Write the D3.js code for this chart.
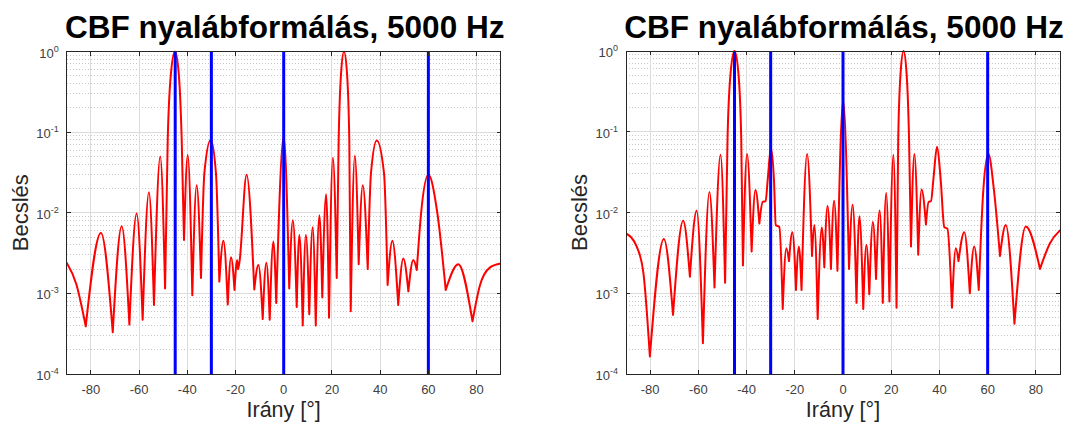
<!DOCTYPE html>
<html>
<head>
<meta charset="utf-8">
<script src="https://cdn.jsdelivr.net/npm/d3@7"></script>
<style>
  html, body { margin: 0; padding: 0; background: #ffffff; }
  svg { display: block; }
  text { font-family: "Liberation Sans", Arial, Helvetica, sans-serif; }
</style>
</head>
<body>
<svg id="chart" width="1075" height="426"></svg>
<script>
// ---------- data ----------
const titleText = "CBF nyalábformálás, 5000 Hz";
const xLabelText = "Irány [°]";
const yLabelText = "Becslés";

const xTicks = [-80, -60, -40, -20, 0, 20, 40, 60, 80];
const yTickExponents = [0, -1, -2, -3, -4];
const sourceAngles = [-45, -30, 0, 60];

// Left panel: red beam pattern (extrema and shape points)
const anglesLeft = [
  -90, -86, -82.1, -75.8, -70.9, -67.2, -64.0, -61.0, -58.5, -55.9, -53.8, -51.2, -49.2,
  -48.1, -46.75, -45.1, -43.55, -42.3,
  -41.35, -39.8, -37.9, -36.1, -34.3, -32.9, -30.3, -28.1, -26.7, -25.0, -23.2, -21.85, -20.4,
  -19.3, -18.9, -18.3, -15.4, -12.2, -10.5, -8.7, -7.2, -5.8, -4.3, -3.1, 0.0, 2.3, 3.8,
  5.4, 6.5, 7.9, 9.2, 10.6, 12.0, 13.3, 14.8, 16.0, 17.6, 18.8, 20.4, 22.0,
  22.8, 23.8, 25.0, 26.25, 27.2,
  27.8, 29.5, 31.1, 32.8, 34.85, 36.2, 38.6, 41.6, 43.1, 45.05, 47.5, 49.6, 51.7, 53.75, 55.2,
  57.0, 60.0, 63.7, 67.2,
  72.4, 78.3, 81.4, 85.6, 90
];
const valuesLeft = [
  2.4e-3, 1.3e-3, 3.9e-4, 5.6e-3, 3.3e-4, 6.8e-3, 4.1e-4, 9.8e-3, 4.7e-4, 1.8e-2, 7.2e-4, 5.0e-2, 1.15e-3,
  8.0e-2, 0.54, 1.0, 0.54, 8.0e-2,
  4.6e-3, 5.2e-2, 9.5e-4, 2.2e-2, 1.55e-3, 3.1e-2, 8.0e-2, 3.1e-2, 1.4e-3, 4.5e-3, 7.3e-4, 2.8e-3, 1.1e-3,
  2.6e-3, 2.0e-3, 2.5e-3, 2.95e-2, 1.12e-3, 2.25e-3, 4.8e-4, 2.4e-3, 4.7e-4, 4.4e-3, 7.6e-4, 8.9e-2, 1.15e-3, 8.1e-3,
  6.8e-4, 5.3e-3, 4.0e-4, 5.3e-3, 5.5e-4, 6.6e-3, 4.0e-4, 9.3e-3, 8.9e-4, 1.7e-2, 5.0e-4, 4.8e-2, 1.55e-3,
  8.0e-2, 0.54, 1.0, 0.54, 8.0e-2,
  6.0e-4, 5.1e-2, 2.3e-3, 2.2e-2, 2.0e-3, 3.1e-2, 7.9e-2, 3.1e-2, 1.27e-3, 4.5e-3, 7.2e-4, 2.7e-3, 1.06e-3, 2.6e-3, 1.95e-3,
  1.0e-2, 2.95e-2, 1.0e-2, 1.1e-3,
  2.3e-3, 4.5e-4, 1.26e-3, 2.1e-3, 2.35e-3
];

// Right panel: red beam pattern
const anglesRight = [
  -90, -85.6, -82.8, -80.1, -74.3, -70.5, -66.3, -63.5, -60.7, -58.1, -55.4, -53.3, -50.8, -48.9,
  -47.9, -46.6, -45.0, -43.4, -42.2,
  -41.5, -39.8, -37.9, -36.3, -34.7, -33.3, -32.1, -31.2, -29.9, -28.6, -27.9, -26.4, -25.0, -23.5, -22.4,
  -21.0, -19.5, -18.3, -17.2, -14.9, -12.85, -11.9, -10.5, -8.8, -7.75, -6.4, -5.0, -3.7, -2.3,
  0.05, 2.5, 4.0, 5.6, 6.8, 8.4, 9.7, 10.9, 12.4, 13.7, 15.2, 16.5, 17.9, 19.25, 20.9, 22.2,
  22.9, 23.9, 25.1, 26.35, 27.4,
  28.2, 29.6, 31.2, 32.6, 34.4, 35.5, 36.5, 37.5, 39.0, 40.5, 42.0, 43.3, 45.2, 46.8, 47.9, 50.3, 52.6,
  54.4, 56.3, 58.2, 60.3, 62.6, 65.1, 67.5, 71.1, 75.8, 81.7, 85.9, 90
];
const valuesRight = [
  5.5e-3, 3.8e-3, 1.8e-3, 1.65e-4, 4.7e-3, 5.4e-4, 7.9e-3, 1.6e-3, 1.05e-2, 2.4e-4, 1.8e-2, 1.18e-3, 5.2e-2, 1.35e-3,
  8.0e-2, 0.54, 1.0, 0.54, 8.0e-2,
  2.2e-3, 5.3e-2, 3.3e-3, 1.9e-2, 7.3e-3, 1.35e-2, 1.38e-2, 2.6e-2, 6.3e-2, 2.4e-2, 7.0e-3, 6.6e-3, 6.4e-4, 3.6e-3, 2.5e-3,
  5.7e-3, 1.1e-3, 3.8e-3, 1.1e-3, 5.3e-2, 2.9e-3, 7.0e-3, 4.8e-4, 6.5e-3, 2.1e-3, 1.2e-2, 2.0e-3, 1.4e-2, 1.9e-3,
  2.45e-1, 2.0e-3, 1.25e-2, 7.6e-4, 9.0e-3, 6.4e-4, 4.0e-3, 9.7e-4, 7.6e-3, 1.5e-3, 1.06e-2, 7.6e-4, 1.75e-2, 7.9e-4, 5.2e-2, 6.6e-4,
  8.0e-2, 0.54, 1.0, 0.54, 8.0e-2,
  3.8e-3, 5.3e-2, 3.0e-3, 1.92e-2, 7.1e-3, 1.35e-2, 1.38e-2, 2.6e-2, 6.5e-2, 2.6e-2, 6.6e-3, 6.3e-3, 6.6e-4, 3.6e-3, 2.5e-3, 5.7e-3, 1.0e-3,
  3.8e-3, 1.1e-3, 1.9e-2, 5.3e-2, 1.9e-2, 2.9e-3, 7.0e-3, 4.2e-4, 6.7e-3, 2.0e-3, 4.2e-3, 6.0e-3
];

// ---------- drawing ----------
const svg = d3.select("#chart");
svg.append("rect").attr("width", 1075).attr("height", 426).attr("fill", "#ffffff");

function drawPanel(id, box, angles, values) {
  const g = svg.append("g").attr("id", id);
  const x = d3.scaleLinear().domain([-90, 90]).range([box.x0, box.x1]);
  const y = d3.scaleLog().domain([1e-4, 1]).range([box.y1, box.y0]);

  // minor y grid (dotted)
  const minor = [];
  for (let e = -4; e < 0; e++) for (let k = 2; k <= 9; k++) minor.push(k * Math.pow(10, e));
  g.append("g").selectAll("line").data(minor).join("line")
    .attr("x1", box.x0).attr("x2", box.x1)
    .attr("y1", d => y(d)).attr("y2", d => y(d))
    .attr("stroke", "#c8c8c8").attr("stroke-width", 1)
    .attr("stroke-dasharray", "1,2").attr("shape-rendering", "crispEdges");

  // major grids
  g.append("g").selectAll("line").data(yTickExponents.map(e => Math.pow(10, e))).join("line")
    .attr("x1", box.x0).attr("x2", box.x1)
    .attr("y1", d => y(d)).attr("y2", d => y(d))
    .attr("stroke", "#dcdcdc").attr("stroke-width", 1).attr("shape-rendering", "crispEdges");
  g.append("g").selectAll("line").data(xTicks).join("line")
    .attr("x1", d => x(d)).attr("x2", d => x(d))
    .attr("y1", box.y0).attr("y2", box.y1)
    .attr("stroke", "#dcdcdc").attr("stroke-width", 1).attr("shape-rendering", "crispEdges");

  // clip
  g.append("clipPath").attr("id", id + "-clip").append("rect")
    .attr("x", box.x0).attr("y", box.y0 - 1)
    .attr("width", box.x1 - box.x0).attr("height", box.y1 - box.y0 + 1);

  // red curve: split at local minima (nulls) so that nulls stay sharp
  const pts = angles.map((a, i) => [a, values[i]]);
  const breaks = [0];
  for (let i = 1; i < pts.length - 1; i++) {
    if (pts[i][1] < pts[i - 1][1] && pts[i][1] < pts[i + 1][1]) breaks.push(i);
  }
  breaks.push(pts.length - 1);
  const line = d3.line().x(d => x(d[0])).y(d => y(d[1])).curve(d3.curveMonotoneX);
  let dStr = "";
  for (let b = 0; b < breaks.length - 1; b++) {
    dStr += line(pts.slice(breaks[b], breaks[b + 1] + 1));
  }
  g.append("path").attr("d", dStr)
    .attr("clip-path", `url(#${id}-clip)`)
    .attr("fill", "none").attr("stroke", "#ff0000")
    .attr("stroke-width", 2).attr("stroke-linecap", "round").attr("stroke-linejoin", "round");

  // blue source lines
  g.append("g").selectAll("line").data(sourceAngles).join("line")
    .attr("x1", d => x(d)).attr("x2", d => x(d))
    .attr("y1", box.y0).attr("y2", box.y1)
    .attr("stroke", "#0000ff").attr("stroke-width", 3);

  // axes box
  g.append("rect").attr("x", box.x0).attr("y", box.y0)
    .attr("width", box.x1 - box.x0).attr("height", box.y1 - box.y0)
    .attr("fill", "none").attr("stroke", "#262626").attr("stroke-width", 1)
    .attr("shape-rendering", "crispEdges");

  // inward ticks
  const tl = 4;
  g.append("g").selectAll("line").data(xTicks).join("line")
    .attr("x1", d => x(d)).attr("x2", d => x(d))
    .attr("y1", box.y1).attr("y2", box.y1 - tl)
    .attr("stroke", "#262626").attr("shape-rendering", "crispEdges");
  g.append("g").selectAll("line").data(xTicks).join("line")
    .attr("x1", d => x(d)).attr("x2", d => x(d))
    .attr("y1", box.y0).attr("y2", box.y0 + tl)
    .attr("stroke", "#262626").attr("shape-rendering", "crispEdges");
  g.append("g").selectAll("line").data(yTickExponents).join("line")
    .attr("x1", box.x0).attr("x2", box.x0 + tl)
    .attr("y1", d => y(Math.pow(10, d))).attr("y2", d => y(Math.pow(10, d)))
    .attr("stroke", "#262626").attr("shape-rendering", "crispEdges");
  g.append("g").selectAll("line").data(yTickExponents).join("line")
    .attr("x1", box.x1).attr("x2", box.x1 - tl)
    .attr("y1", d => y(Math.pow(10, d))).attr("y2", d => y(Math.pow(10, d)))
    .attr("stroke", "#262626").attr("shape-rendering", "crispEdges");

  // x tick labels
  g.append("g").selectAll("text").data(xTicks).join("text")
    .attr("x", d => x(d)).attr("y", box.y1 + 20)
    .attr("text-anchor", "middle").attr("font-size", 13).attr("fill", "#404040")
    .text(d => String(d));

  // y tick labels 10^e
  const yl = g.append("g").selectAll("text").data(yTickExponents).join("text")
    .attr("x", box.x0 - 8).attr("y", d => y(Math.pow(10, d)) + 6)
    .attr("text-anchor", "end").attr("font-size", 13).attr("fill", "#404040");
  yl.append("tspan").text("10");
  yl.append("tspan").attr("dy", -6).attr("font-size", 9).text(d => String(d));

  // title
  g.append("text").attr("x", (box.x0 + box.x1) / 2 + 1).attr("y", 38)
    .attr("text-anchor", "middle").attr("font-size", 31.5).attr("font-weight", "bold")
    .attr("fill", "#000000").text(titleText);

  // axis labels
  g.append("text").attr("x", (box.x0 + box.x1) / 2).attr("y", 417)
    .attr("text-anchor", "middle").attr("font-size", 21.5).attr("fill", "#262626")
    .text(xLabelText);
  g.append("text")
    .attr("transform", `translate(${box.x0 - 39},${(box.y0 + box.y1) / 2}) rotate(-90)`)
    .attr("text-anchor", "middle").attr("font-size", 22).attr("fill", "#262626")
    .text(yLabelText);
}

drawPanel("left", { x0: 66.7, x1: 500.7, y0: 51.5, y1: 374 }, anglesLeft, valuesLeft);
drawPanel("right", { x0: 626, x1: 1060, y0: 51, y1: 374 }, anglesRight, valuesRight);
</script>
</body>
</html>
